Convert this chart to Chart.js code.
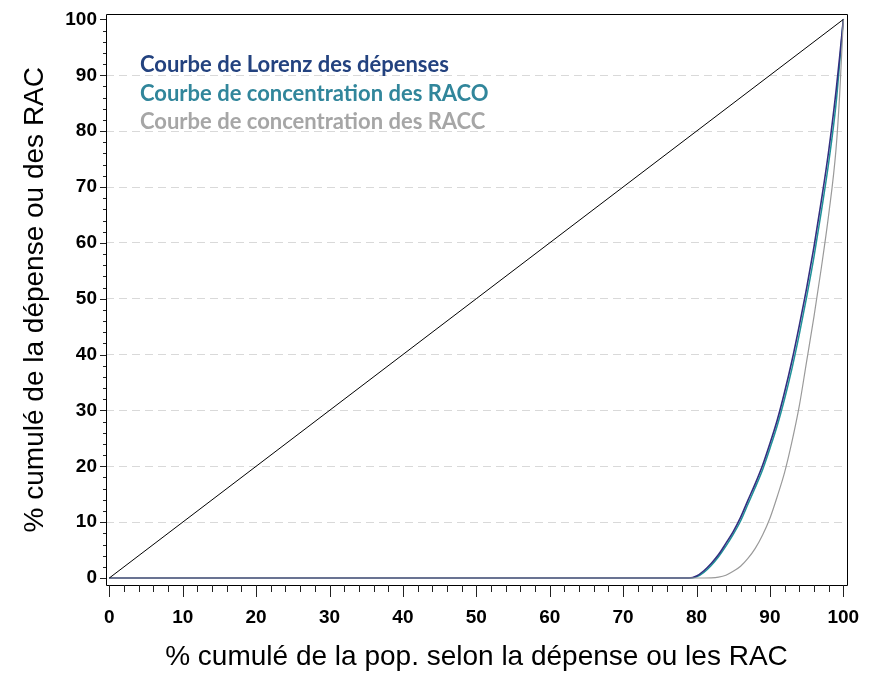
<!DOCTYPE html>
<html>
<head>
<meta charset="utf-8">
<script src="https://cdn.jsdelivr.net/npm/chart.js@4.4.1/dist/chart.umd.min.js"></script>
<style>
  body { margin: 0; background: #fff; }
  #wrap { width: 876px; height: 675px; }
</style>
</head>
<body>
<div id="wrap"><canvas id="lorenzChart" width="876" height="675"></canvas></div>
<script>
// % cumulé de la population
const popPct = [0, 78, 79, 80, 81, 82, 83, 84, 85, 86, 87, 88, 89, 90, 91, 92, 93, 94, 95, 96, 97, 98, 99, 99.5, 100];
// % cumulé de la dépense / des RAC
const lorenzDep = [0, 0, 0, 0.35, 1.3, 2.6, 4.2, 6.2, 8.3, 10.85, 13.9, 16.9, 20.2, 24.1, 28.3, 33.3, 38.9, 45.2, 51.9, 59.3, 67.5, 76.4, 87.1, 93.3, 100];
const concRACO = [0, 0, 0, 0.2, 1.0, 2.25, 3.8, 5.7, 7.8, 10.2, 13.2, 16.2, 19.4, 23.2, 27.3, 32.1, 37.5, 43.6, 50.3, 57.5, 65.6, 74.3, 84.8, 92.2, 100];
const concRACC = [0, 0, 0, 0, 0, 0.02, 0.15, 0.5, 1.2, 2.1, 3.5, 5.3, 7.7, 10.7, 14.6, 18.9, 24.4, 30.8, 38.8, 46.8, 55.5, 65.0, 76.7, 86.5, 100];
const egaliteX = [0, 100];
const egaliteY = [0, 100];
const majorTicks = [0, 10, 20, 30, 40, 50, 60, 70, 80, 90, 100];

const legendItems = [
    { text: 'Courbe de Lorenz des dépenses', color: '#23427f' },
    { text: 'Courbe de concentration des RACO', color: '#31869b' },
    { text: 'Courbe de concentration des RACC', color: '#a6a6a6' }
];

const toPoints = (xs, ys) => xs.map((x, i) => ({ x: x, y: ys[i] }));

// axes, petites graduations, cadre et légende
const framePlugin = {
    id: 'frame',
    afterDraw(chart) {
        const ctx = chart.ctx;
        const xs = chart.scales.x, ys = chart.scales.y;
        const a = chart.chartArea;
        ctx.save();
        ctx.strokeStyle = '#000';
        ctx.lineWidth = 1;
        ctx.beginPath();
        ctx.rect(Math.round(a.left) + 0.5, Math.round(a.top) + 0.5, Math.round(a.right - a.left), Math.round(a.bottom - a.top));
        ctx.stroke();

        ctx.strokeStyle = '#222';
        ctx.beginPath();
        for (let v = 0; v <= 100; v += 2) {
            const major = v % 10 === 0;
            const px = Math.round(xs.getPixelForValue(v)) + 0.5;
            ctx.moveTo(px, a.bottom);
            ctx.lineTo(px, a.bottom + (major ? 12 : 7));
            const py = Math.round(ys.getPixelForValue(v)) + 0.5;
            ctx.moveTo(a.left, py);
            ctx.lineTo(a.left - (major ? 6 : 3), py);
        }
        ctx.stroke();

        ctx.font = 'bold 22px Lato, "Open Sans", sans-serif';
        ctx.textBaseline = 'middle';
        legendItems.forEach((item, i) => {
            ctx.fillStyle = item.color;
            ctx.fillText(item.text, 140, 65 + i * 28.5);
        });
        ctx.restore();
    }
};

const ctx = document.getElementById('lorenzChart').getContext('2d');
new Chart(ctx, {
    type: 'line',
    data: {
        datasets: [
            {
                label: 'Égalité',
                data: toPoints(egaliteX, egaliteY),
                borderColor: '#000',
                borderWidth: 1,
                pointRadius: 0
            },
            {
                label: 'Courbe de concentration des RACC',
                data: toPoints(popPct, concRACC),
                borderColor: '#9a9a9a',
                borderWidth: 1.2,
                pointRadius: 0,
                cubicInterpolationMode: 'monotone'
            },
            {
                label: 'Courbe de Lorenz des dépenses',
                data: toPoints(popPct, lorenzDep),
                borderColor: '#332f80',
                borderWidth: 1.6,
                pointRadius: 0,
                cubicInterpolationMode: 'monotone'
            },
            {
                label: 'Courbe de concentration des RACO',
                data: toPoints(popPct, concRACO),
                borderColor: '#1f9399',
                borderWidth: 1.5,
                pointRadius: 0,
                cubicInterpolationMode: 'monotone'
            }
        ]
    },
    options: {
        responsive: false,
        animation: false,
        layout: { padding: { top: 12, right: 29, left: 0, bottom: 0 } },
        plugins: { legend: { display: false }, tooltip: { enabled: false } },
        scales: {
            x: {
                type: 'linear',
                min: -0.45,
                max: 100.5,
                afterBuildTicks: (scale) => { scale.ticks = majorTicks.map(v => ({ value: v })); },
                afterFit: (scale) => { scale.height = 90; },
                grid: { display: true, color: 'transparent', drawTicks: true, tickLength: 12, tickColor: 'transparent' },
                border: { display: false },
                ticks: {
                    autoSkip: false,
                    maxRotation: 0,
                    padding: 9,
                    color: '#000',
                    font: { family: '"Liberation Sans", Arial, sans-serif', weight: 'bold', size: 19 }
                },
                title: {
                    display: true,
                    text: '% cumulé de la pop. selon la dépense ou les RAC',
                    color: '#000',
                    padding: { top: 0, bottom: 1 },
                    font: { family: '"Liberation Sans", Arial, sans-serif', size: 28 }
                }
            },
            y: {
                type: 'linear',
                min: -1.25,
                max: 100.9,
                afterBuildTicks: (scale) => { scale.ticks = majorTicks.map(v => ({ value: v })); },
                afterFit: (scale) => { scale.width = 106; },
                grid: {
                    display: true,
                    color: (c) => (c.tick && c.tick.value > 0 && c.tick.value < 100) ? '#d9d9d9' : 'transparent',
                    drawTicks: true,
                    tickLength: 6,
                    tickColor: 'transparent'
                },
                border: { display: false, dash: [8, 5] },
                ticks: {
                    padding: 3,
                    color: '#000',
                    font: { family: '"Liberation Sans", Arial, sans-serif', weight: 'bold', size: 19 }
                },
                title: {
                    display: true,
                    text: '% cumulé de la dépense ou des RAC',
                    color: '#000',
                    padding: { top: 18, bottom: 0 },
                    font: { family: '"Liberation Sans", Arial, sans-serif', size: 28 }
                }
            }
        }
    },
    plugins: [framePlugin]
});
</script>
</body>
</html>
